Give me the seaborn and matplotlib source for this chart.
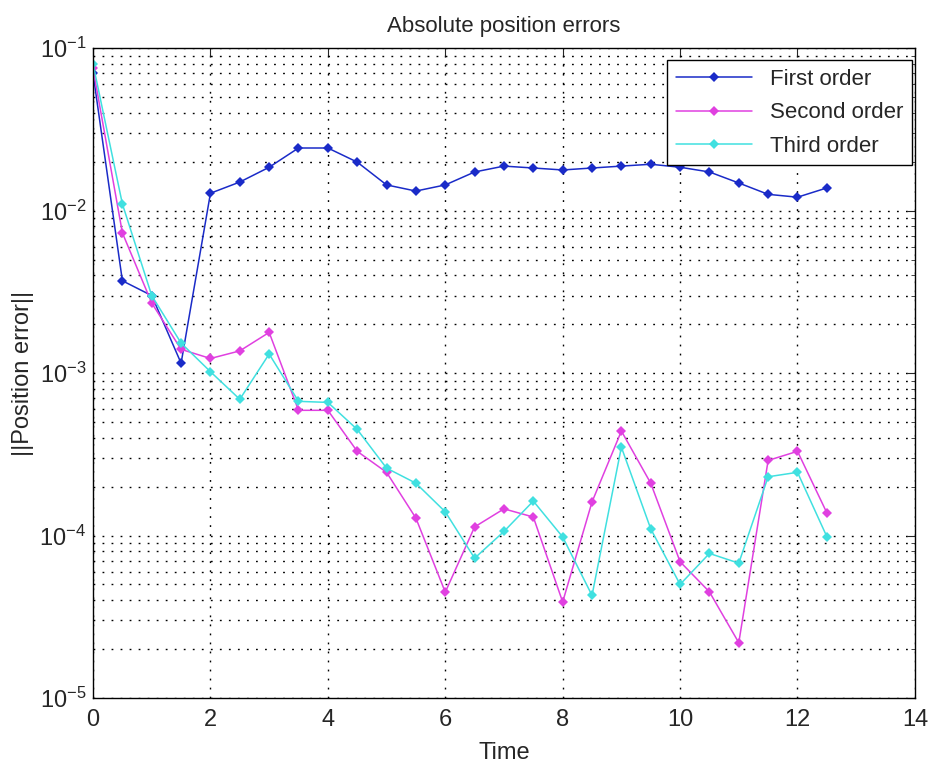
import numpy as np
import pandas as pd
import matplotlib
matplotlib.use("Agg")
import matplotlib.pyplot as plt
import seaborn as sns
from matplotlib.ticker import LogLocator, NullFormatter

time = [0, 0.5, 1, 1.5, 2, 2.5, 3, 3.5, 4, 4.5, 5, 5.5, 6, 6.5, 7, 7.5, 8, 8.5, 9,
        9.5, 10, 10.5, 11, 11.5, 12, 12.5]

first_order = [0.07, 0.0037, 0.0030, 0.00115, 0.0128, 0.0150, 0.0185, 0.0243, 0.0243,
               0.0199, 0.0144, 0.0132, 0.0144, 0.0173, 0.0188, 0.0183, 0.0178, 0.0183,
               0.0188, 0.0193, 0.0185, 0.0173, 0.0148, 0.0126, 0.0121, 0.0138]

second_order = [0.075, 0.0073, 0.0027, 0.0014, 0.00123, 0.00137, 0.00178, 0.00059, 0.00059,
                0.00033, 0.000245, 0.000128, 0.0000448, 0.000113, 0.000146, 0.000130,
                0.000039, 0.000161, 0.00044, 0.00021, 0.000069, 0.000045, 0.0000219,
                0.00029, 0.00033, 0.000138]

third_order = [0.08, 0.011, 0.0030, 0.00153, 0.00102, 0.00069, 0.00131, 0.00067, 0.00066,
               0.00045, 0.00026, 0.00021, 0.00014, 0.0000725, 0.000106, 0.000163,
               0.000098, 0.0000428, 0.00035, 0.00011, 0.00005, 0.0000776, 0.0000676,
               0.00023, 0.000245, 0.0000985]

labels = ["First order", "Second order", "Third order"]
colors = ["#1a2bc8", "#e040e0", "#40e0e0"]

df = pd.DataFrame({"Time": time * 3,
                   "err": first_order + second_order + third_order,
                   "order": np.repeat(labels, len(time))})

sns.set_style("white")
plt.rcParams["font.family"] = ["Liberation Sans", "DejaVu Sans"]
plt.rcParams["mathtext.fontset"] = "custom"
plt.rcParams["mathtext.rm"] = "Liberation Sans"

fig = plt.figure(figsize=(9.35, 7.65), dpi=100)
ax = fig.add_axes([0.0995, 0.0876, 0.879, 0.8494])

sns.lineplot(data=df, x="Time", y="err", hue="order", palette=colors, marker="D",
             markersize=5, markeredgewidth=0, linewidth=1.1, ax=ax)

ax.set_yscale("log")
ax.set_xlim(0, 14)
ax.set_ylim(1e-5, 1e-1)
ax.set_xticks(range(0, 15, 2))
ax.yaxis.set_major_locator(LogLocator(base=10, numticks=10))
ax.yaxis.set_minor_locator(LogLocator(base=10, subs=np.arange(2, 10), numticks=20))
ax.yaxis.set_minor_formatter(NullFormatter())

dots = (0, (1.3, 5.2))
ax.grid(True, which="major", axis="both", color="black", linestyle=dots, linewidth=1)
ax.grid(True, which="minor", axis="y", color="black", linestyle=dots, linewidth=1)

ax.tick_params(which="both", direction="in", top=True, right=True, labelsize=17)
ax.tick_params(which="major", length=6)
ax.tick_params(which="minor", length=3)
ax.tick_params(axis="x", pad=8)
ax.tick_params(axis="y", pad=5)
for s in ax.spines.values():
    s.set_color("black")
    s.set_linewidth(1)

ax.set_title("Absolute position errors", fontsize=16, pad=12)
ax.set_xlabel("Time", fontsize=17, labelpad=8)
ax.set_ylabel("||Position error||", fontsize=17, labelpad=4)

leg = ax.legend(loc="upper right", bbox_to_anchor=(0.9964, 0.9815), borderaxespad=0,
                fontsize=16, frameon=True, fancybox=False, edgecolor="black",
                framealpha=1, handlelength=3.4, labelspacing=0.55)
leg.get_frame().set_linewidth(1)

plt.savefig("out.png", dpi=100)
